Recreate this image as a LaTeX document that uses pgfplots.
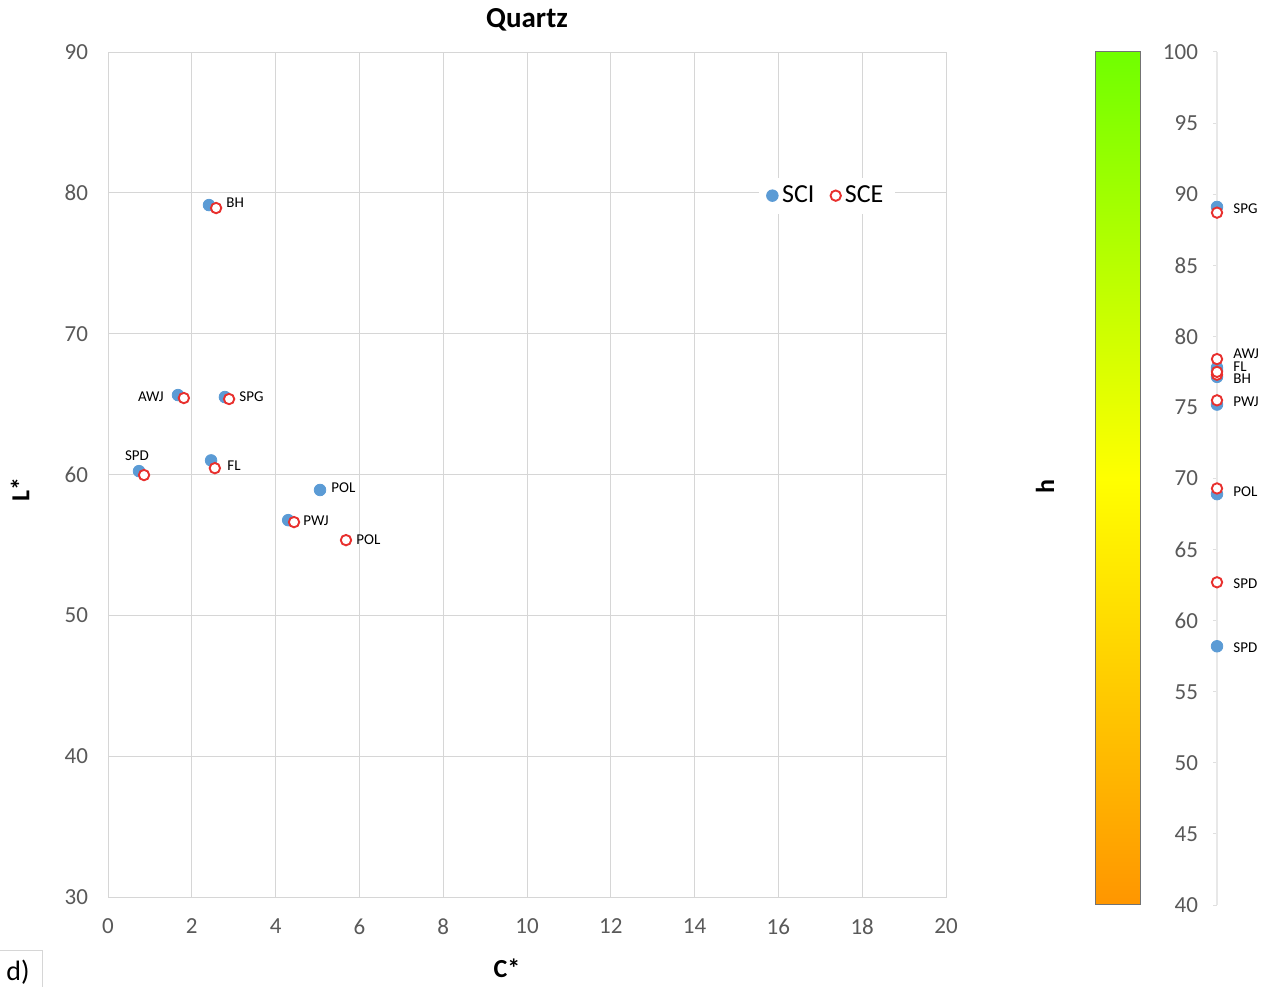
\documentclass[border=0pt]{standalone}
\usepackage{fontspec}
\setmainfont{Carlito}
\usepackage{pgfplots}
\pgfplotsset{compat=1.18}

\definecolor{sciblue}{HTML}{5B9BD5}
\definecolor{scered}{HTML}{E8302E}
\definecolor{gridgray}{HTML}{D6D6D6}
\definecolor{ticktext}{HTML}{595959}
\definecolor{cbgreen}{RGB}{112,255,0}
\definecolor{cbyellow}{RGB}{255,255,0}
\definecolor{cborange}{RGB}{255,150,0}

\newcommand{\tickfont}{\fontsize{11.5}{13}\selectfont}
\newcommand{\ptfont}{\fontsize{7.5}{8}\selectfont}

\begin{document}
\begin{tikzpicture}
% page frame (1 px = 0.5 pt)
\path[use as bounding box] (0,0) rectangle (634.5pt,493.5pt);

% ---------- L* versus C* ----------
\begin{axis}[
  at={(54pt,45pt)}, anchor=south west,
  width=419pt, height=422.5pt, scale only axis,
  xmin=0, xmax=20, ymin=30, ymax=90,
  xtick distance=2, ytick distance=10,
  grid=major,
  grid style={gridgray, line width=0.5pt},
  axis line style={gridgray, line width=0.5pt},
  major tick length=0pt,
  /pgf/number format/assume math mode=true,
  tick label style={font=\tickfont, text=ticktext},
  yticklabel style={xshift=-6.5pt},
  xticklabel style={yshift=-7.5pt},
  clip=false,
  legend style={at={(0.858,0.83)}, anchor=center, draw=none, fill=white,
    font=\fontsize{13}{15}\selectfont, inner xsep=4pt, inner ysep=2pt},
  legend columns=2,
  legend cell align=left,
  /tikz/every even column/.append style={column sep=6pt},
]
% SCI
\addplot[only marks, mark=*, mark size=2.9pt, color=sciblue] table {
x y
1.67 65.64
2.41 79.13
2.46 61.00
4.30 56.76
5.06 58.90
0.74 60.24
2.79 65.50
};
\addlegendentry{SCI}
% SCE
\addplot[only marks, mark=*, mark size=2.6pt, draw=scered, fill=white, line width=0.95pt] table {
x y
1.81 65.43
2.58 78.92
2.55 60.45
4.44 56.62
5.68 55.34
0.86 59.96
2.89 65.36
};
\addlegendentry{SCE}

% sample names
\addplot[draw=none, mark=none, forget plot, nodes near coords, point meta=explicit symbolic,
  nodes near coords style={anchor=west, inner sep=0pt, font=\ptfont, text=black}]
  table[meta=lab] {
x y lab
2.816 79.28 BH
3.126 65.50 SPG
2.840 60.60 FL
5.322 59.03 POL
4.654 56.69 PWJ
5.919 55.34 POL
};
\addplot[draw=none, mark=none, forget plot, nodes near coords, point meta=explicit symbolic,
  nodes near coords style={anchor=east, inner sep=0pt, font=\ptfont, text=black}]
  table[meta=lab] {
x y lab
1.336 65.50 AWJ
};
\addplot[draw=none, mark=none, forget plot, nodes near coords, point meta=explicit symbolic,
  nodes near coords style={anchor=center, inner sep=0pt, font=\ptfont, text=black}]
  table[meta=lab] {
x y lab
0.692 61.31 SPD
};
\end{axis}

% ---------- hue strip ----------
\begin{axis}[
  at={(608.5pt,41pt)}, anchor=south west,
  width=4pt, height=426.5pt, scale only axis,
  xmin=0, xmax=1, ymin=40, ymax=100,
  axis x line=none, axis y line*=left,
  ytick distance=5,
  axis line style={gray!18, line width=1.3pt},
  tick style={gray!25, line width=0.5pt},
  tick align=outside, major tick length=2pt,
  /pgf/number format/assume math mode=true,
  tick label style={font=\tickfont, text=ticktext},
  yticklabel style={xshift=-4pt},
  clip=false,
]
\addplot[only marks, mark=*, mark size=2.9pt, color=sciblue] table {
x y
0 77.80
0 77.15
0 77.60
0 75.20
0 68.90
0 58.20
0 89.10
};
\addplot[only marks, mark=*, mark size=2.6pt, draw=scered, fill=white, line width=0.95pt] table {
x y
0 78.40
0 77.30
0 77.50
0 75.50
0 69.30
0 62.70
0 88.70
};
\addplot[draw=none, mark=none, nodes near coords, point meta=explicit symbolic,
  nodes near coords style={anchor=west, inner sep=0pt, xshift=8pt, font=\ptfont, text=black}]
  table[meta=lab] {
x y lab
0 88.96 SPG
0 78.76 AWJ
0 77.85 FL
0 77.00 BH
0 75.39 PWJ
0 69.06 POL
0 62.59 SPD
0 58.09 SPD
};
\end{axis}

% colour key for h
\shade[top color=cbgreen, bottom color=cborange, middle color=cbyellow]
  (547.5pt,41.5pt) rectangle (570pt,467.5pt);
\draw[black!55, line width=0.5pt] (547.5pt,41.5pt) rectangle (570pt,467.5pt);

% titles and axis names
\node[font=\bfseries\fontsize{14.5}{16}\selectfont] at (263.5pt,483.5pt) {Quartz};
\node[font=\bfseries\fontsize{13}{15}\selectfont, rotate=90] at (10pt,248.5pt) {L*};
\node[font=\bfseries\fontsize{13}{15}\selectfont] at (253.5pt,9.5pt) {C*};
\node[font=\bfseries\fontsize{13}{15}\selectfont, rotate=90] at (522.5pt,250pt) {h};

% panel tag
\draw[gridgray, line width=0.5pt] (0pt,18.5pt) -- (21pt,18.5pt) -- (21pt,0pt);
\node[font=\fontsize{14}{16}\selectfont] at (9pt,7.5pt) {d)};
\end{tikzpicture}
\end{document}
